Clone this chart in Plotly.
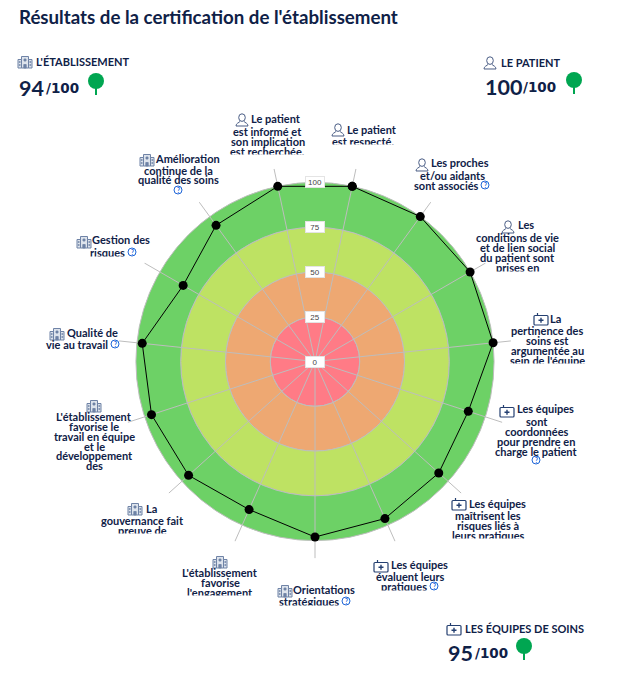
import plotly.graph_objects as go

W, H = 630, 677
CX, CY = 315, 361.5
R_OUT = 197          # pixel radius of the plot area
R_MAX = 110          # radial value at R_OUT

NAVY = "#0F2147"
FONT = "Lato"

# ---- data ----
criteria = ["Le patient est respecté", "Les proches et/ou aidants sont associés",
            "Les conditions de vie et de lien social", "La pertinence des soins",
            "Les équipes sont coordonnées", "Les équipes maîtrisent les risques",
            "Les équipes évaluent leurs pratiques", "Orientations stratégiques",
            "L'établissement favorise l'engagement", "La gouvernance fait preuve de",
            "L'établissement favorise le travail en équipe", "Qualité de vie au travail",
            "Gestion des risques", "Amélioration continue de la qualité des soins",
            "Le patient est informé"]
scores = [100, 100, 100, 100, 90, 93, 96, 98, 90.5, 95, 96, 97, 85, 94, 100]
band_edges = [0, 25, 50, 75, 100]
band_colors = ["#FF7B86", "#EEA872", "#BEE263", "#6DD166"]
tick_values = [0, 25, 50, 75, 100]
title_text = "Résultats de la certification de l'établissement"

# header: icon, caption, score
summary = [
    ("hospital", "L'ÉTABLISSEMENT", "94", 18, 25, 62, 35, 96, 81),
    ("person", "LE PATIENT", "100", 484, 490, 63, 500, 574, 80),
    ("kit", "LES ÉQUIPES DE SOINS", "95", 447, 454, 629, 464, 524, 646),
]
summary_w = {"94": 25, "100": 36, "95": 25}

# label lines: (text, centre x, centre y)
labels = [
    ("person", 242, 120, [("Le patient", 276, 119), ("est informé et", 267.5, 131), ("son implication", 267.5, 141), ("est recherchée.", 267.5, 151)], None, (154, 78)),
    ("person", 338, 130, [("Le patient", 372, 129), ("est respecté.", 363, 141)], None, (144, 68)),
    ("person", 422, 165, [("Les proches", 460, 163), ("et/ou aidants", 452, 175), ("sont associés", 446, 185)], (485, 185), None),
    ("person", 508, 227, [("Les", 526, 225), ("conditions de vie", 517, 237), ("et de lien social", 517, 247), ("du patient sont", 517, 257), ("prises en", 517, 267)], None, (271, 60)),
    ("kit", 541, 319, [("La", 555, 318), ("pertinence des", 547, 330), ("soins est", 547, 340), ("argumentée au", 547, 350), ("sein de l'équipe", 547, 360)], None, (363, 90)),
    ("kit", 507, 411, [("Les équipes", 545, 409), ("sont", 537, 421), ("coordonnées", 537, 431), ("pour prendre en", 536, 441), ("charge le patient", 536, 451)], (536, 460), None),
    ("kit", 459, 504, [("Les équipes", 497, 503), ("maîtrisent les", 488, 515), ("risques liés à", 488, 525), ("leurs pratiques", 488, 535)], None, (538, 90)),
    ("kit", 381, 566, [("Les équipes", 419, 564), ("évaluent leurs", 410, 576), ("pratiques", 404, 586)], (434, 586), (590, 56)),
    ("hospital", 285, 591, [("Orientations", 324, 589), ("stratégiques", 309, 601)], (346, 601), (605, 64)),
    ("hospital", 220, 562, [("L'établissement", 220, 572), ("favorise", 220, 582), ("l'engagement", 220, 592)], None, (595, 90)),
    ("hospital", 135, 509, [("La", 151, 508), ("gouvernance fait", 142, 520), ("preuve de", 142, 530)], None, (533, 70)),
    ("hospital", 94, 406, [("L'établissement", 94, 416), ("favorise le", 94, 426), ("travail en équipe", 94, 436), ("et le", 94, 446), ("développement", 94, 455), ("des", 94, 465)], None, None),
    ("hospital", 57, 334, [("Qualité de", 92, 332), ("vie au travail", 77, 344)], (115, 344), None),
    ("hospital", 84, 242, [("Gestion des", 121, 240), ("risques", 107, 252)], (132, 252), (256, 40)),
    ("hospital", 147, 160, [("Amélioration", 187, 158), ("continue de la", 178, 170), ("qualité des soins", 178, 180)], (178, 190), None),
]

thetas = [12 + 24 * i for i in range(len(scores))]

fig = go.Figure()

# bands
prev = band_edges[0]
for edge, col in zip(band_edges[1:], band_colors):
    fig.add_trace(go.Barpolar(r=[edge - prev], base=[prev], theta=[0], width=[360],
                              marker=dict(color=col, line=dict(color="#BDBDBD", width=1)),
                              hoverinfo="skip", showlegend=False))
    prev = edge

# spokes
for t in thetas:
    fig.add_trace(go.Scatterpolar(r=[0, R_MAX], theta=[t, t], mode="lines",
                                  line=dict(color="#BDBDBD", width=1),
                                  hoverinfo="skip", showlegend=False))

# scores
fig.add_trace(go.Scatterpolar(r=scores + scores[:1], theta=thetas + thetas[:1], mode="lines+markers",
                              line=dict(color="#000000", width=1),
                              marker=dict(color="#000000", size=9),
                              text=criteria + criteria[:1], showlegend=False))

def px(x): return x / W
def py(y): return 1 - y / H

shapes, annotations = [], []

def text(s, x, y, size=11, color=NAVY, anchor="center", bold=True, family=FONT):
    annotations.append(dict(text=f"<b>{s}</b>" if bold else s, x=px(x), y=py(y), xref="paper", yref="paper",
                            xanchor=anchor, yanchor="middle", showarrow=False,
                            font=dict(family=family, size=size, color=color), borderpad=0))

def path(d_cmds, color, width=1, fill=None):
    out = []
    for c in d_cmds:
        if c == "Z":
            out.append("Z")
        else:
            cmd, pts = c
            out.append(cmd + " ".join(f"{px(a):.5f},{py(b):.5f}" for a, b in pts))
    shapes.append(dict(type="path", path=" ".join(out), xref="paper", yref="paper",
                       line=dict(color=color, width=width),
                       fillcolor=fill if fill else "rgba(0,0,0,0)", layer="above"))

def circle(x, y, r, color, width=1, fill=None, ry=None):
    ry = ry or r
    shapes.append(dict(type="circle", xref="paper", yref="paper", x0=px(x - r), x1=px(x + r),
                       y0=py(y + ry), y1=py(y - ry), line=dict(color=color, width=width),
                       fillcolor=fill if fill else "rgba(0,0,0,0)", layer="above"))

def rect(x0, y0, x1, y1, color, width=1, fill=None):
    shapes.append(dict(type="rect", xref="paper", yref="paper", x0=px(x0), x1=px(x1),
                       y0=py(y1), y1=py(y0), line=dict(color=color, width=width),
                       fillcolor=fill if fill else "rgba(0,0,0,0)", layer="above"))

def icon_person(x, y):
    c = "#4A5D85"
    circle(x, y - 2.4, 3.3, c, 1, ry=3.8)
    path([("M", [(x - 6, y + 6)]), ("L", [(x + 6, y + 6)]),
          ("C", [(x + 6, y + 3), (x + 3, y + 3), (x + 1.8, y + 1.2)]),
          ("M", [(x - 6, y + 6)]),
          ("C", [(x - 6, y + 3), (x - 3, y + 3), (x - 1.8, y + 1.2)])], c, 1)

def icon_hospital(x, y):
    c = "#6F83A6"
    rect(x - 3.5, y - 5.5, x + 3.5, y + 6, c, 1, "#DDE3EC")
    rect(x - 7, y - 2.5, x - 3.5, y + 6, c, 1, "#DDE3EC")
    rect(x + 3.5, y - 2.5, x + 7, y + 6, c, 1, "#DDE3EC")
    rect(x - 1.2, y + 2.5, x + 1.2, y + 6, c, 0.8, "#6F83A6")
    rect(x - 1, y - 3, x + 1, y - 1, c, 0.8, "#6F83A6")
    for dx in (-5.3, 5.3):
        rect(x + dx - 0.5, y - 0.5, x + dx + 0.5, y + 0.5, c, 0.8)
        rect(x + dx - 0.5, y + 2.5, x + dx + 0.5, y + 3.5, c, 0.8)

def icon_kit(x, y):
    c = "#243F70"
    path([("M", [(x - 6, y - 3.5)]), ("L", [(x + 6, y - 3.5)]),
          ("Q", [(x + 7, y - 3.5), (x + 7, y - 2.5)]), ("L", [(x + 7, y + 5)]),
          ("Q", [(x + 7, y + 6), (x + 6, y + 6)]), ("L", [(x - 6, y + 6)]),
          ("Q", [(x - 7, y + 6), (x - 7, y + 5)]), ("L", [(x - 7, y - 2.5)]),
          ("Q", [(x - 7, y - 3.5), (x - 6, y - 3.5)]), "Z"], c, 1.2)
    path([("M", [(x - 3.5, y - 3.5)]), ("L", [(x - 3.5, y - 6), (x + 3.5, y - 6), (x + 3.5, y - 3.5)])], c, 1.2)
    path([("M", [(x - 2.5, y + 1.2)]), ("L", [(x + 2.5, y + 1.2)]),
          ("M", [(x, y - 1.3)]), ("L", [(x, y + 3.7)])], c, 1.4)

ICONS = {"person": icon_person, "hospital": icon_hospital, "kit": icon_kit}

def help_icon(x, y):
    circle(x, y, 4, "#1F66D8", 1)
    text("?", x, y + 0.2, size=6.5, color="#1F66D8")

# title
text(title_text, 18, 17, size=18.7, anchor="left")

# header blocks
for ic, cap, score, sx, ix, iy, tx, trx, tr_y in summary:
    ICONS[ic](ix, iy)
    text(cap, tx, iy - 0.5, size=11, anchor="left")
    text(score, sx, tr_y + 7, size=21.5, anchor="left")
    text("/100", sx + summary_w[score] + 2, tr_y + 7, size=13.5, anchor="left", family="DejaVu Sans")
    circle(trx, tr_y, 8, "#00A651", 0, "#00A651")
    rect(trx - 1, tr_y + 4, trx + 1, tr_y + 14, "#00A651", 0, "#00A651")

# criterion labels
for ic, ix, iy, lines, hlp, clip in labels:
    ICONS[ic](ix, iy)
    for s, x, y in lines:
        text(s, x, y)
    if hlp:
        help_icon(*hlp)
    if clip:
        clip_y, clip_w = clip
        lx = lines[-1][1]
        annotations.append(dict(text="\u00a0", x=px(lx), y=py(clip_y), xref="paper", yref="paper",
                                xanchor="center", yanchor="top", showarrow=False, width=clip_w, height=7,
                                bgcolor="#FFFFFF", borderpad=0, font=dict(size=5)))

# radial tick chips
scale = R_OUT / R_MAX
for v in tick_values:
    annotations.append(dict(text=str(v), x=px(CX), y=py(CY - v * scale), xref="paper", yref="paper",
                            xanchor="center", yanchor="middle", showarrow=False, width=18, height=10,
                            bgcolor="#FFFFFF", bordercolor="#E4E4E4", borderwidth=1, borderpad=0,
                            font=dict(family="Liberation Sans", size=8, color="#444444")))

fig.update_layout(
    width=W, height=H, autosize=False, margin=dict(l=0, r=0, t=0, b=0),
    paper_bgcolor="#FFFFFF", showlegend=False,
    polar=dict(
        domain=dict(x=[px(CX - R_OUT), px(CX + R_OUT)], y=[py(CY + R_OUT), py(CY - R_OUT)]),
        bgcolor="rgba(0,0,0,0)",
        radialaxis=dict(visible=False, range=[0, R_MAX]),
        angularaxis=dict(visible=False, rotation=90, direction="clockwise", thetaunit="degrees"),
        barmode="overlay",
    ),
    shapes=shapes, annotations=annotations,
)

fig.write_html("out.html", config={"displayModeBar": False},
               post_script="document.body.style.margin='0';")
